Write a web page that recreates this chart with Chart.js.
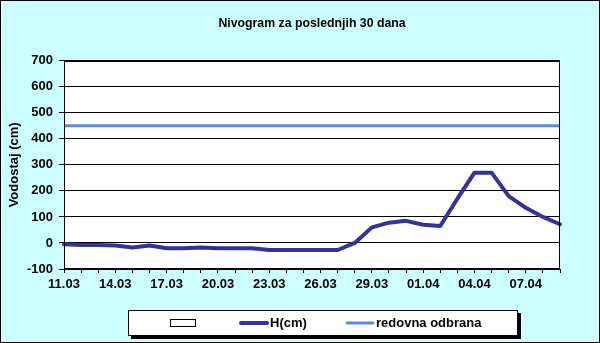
<!DOCTYPE html>
<html>
<head>
<meta charset="utf-8">
<script src="https://cdn.jsdelivr.net/npm/chart.js@4/dist/chart.umd.min.js"></script>
<style>
html,body{margin:0;padding:0;background:#CCFFFF;}
#wrap{width:600px;height:343px;position:relative;}
</style>
</head>
<body>
<div id="wrap"><canvas id="c" width="600" height="343"></canvas></div>
<script>
const TITLE = 'Nivogram za poslednjih 30 dana';
const Y_TITLE = 'Vodostaj (cm)';
const DATES = ['11.03','12.03','13.03','14.03','15.03','16.03','17.03','18.03','19.03','20.03',
  '21.03','22.03','23.03','24.03','25.03','26.03','27.03','28.03','29.03','30.03','31.03',
  '01.04','02.04','03.04','04.04','05.04','06.04','07.04','08.04','09.04'];
const H_LABEL = 'H(cm)';
const H_VALUES = [-5,-8,-8,-10,-17,-10,-20,-20,-17,-20,-20,-20,-27,-27,-27,-27,-27,0,60,78,85,70,65,170,270,270,180,135,100,72];
const RED_LABEL = 'redovna odbrana';
const RED_VALUES = [450,450,450,450,450,450,450,450,450,450,450,450,450,450,450,450,450,450,450,450,450,450,450,450,450,450,450,450,450,450];
const EMPTY_LABEL = '';
const EMPTY_VALUES = [];

const FONT = '"Liberation Sans", Arial, sans-serif';

const bgPlugin = {
  id: 'bg',
  beforeDraw(chart) {
    const ctx = chart.ctx, a = chart.chartArea;
    ctx.save();
    ctx.fillStyle = '#CCFFFF';
    ctx.fillRect(0, 0, chart.width, chart.height);
    ctx.fillStyle = '#FFFFFF';
    ctx.fillRect(a.left, a.top, a.right - a.left, a.bottom - a.top);
    ctx.restore();
  },
  afterDraw(chart) {
    const ctx = chart.ctx, a = chart.chartArea;
    ctx.save();
    ctx.strokeStyle = '#000';
    ctx.lineWidth = 1;
    ctx.strokeRect(Math.round(a.left) + 0.5, Math.round(a.top) + 0.5, Math.round(a.right - a.left) - 1, Math.round(a.bottom - a.top) - 1);
    ctx.strokeRect(0.5, 0.5, chart.width - 1, chart.height - 1);
    // legend
    const lx = 128, ly = 310, lw = 390, lh = 26;
    ctx.fillStyle = '#000';
    ctx.fillRect(lx + 3, ly + 3, lw, lh);
    ctx.fillStyle = '#fff';
    ctx.fillRect(lx, ly, lw, lh);
    ctx.strokeRect(lx + 0.5, ly + 0.5, lw - 1, lh - 1);
    const cy = ly + 13;
    const slots = [170, 240, 346];
    ctx.font = 'bold 13px ' + FONT;
    ctx.textBaseline = 'middle';
    ctx.textAlign = 'left';
    chart.data.datasets.forEach((ds, i) => {
      const x = slots[i];
      if (ds.legendBox) {
        ctx.fillStyle = '#fff';
        ctx.fillRect(x, cy - 3, 25, 6);
        ctx.strokeStyle = '#000';
        ctx.lineWidth = 1;
        ctx.strokeRect(x + 0.5, cy - 3.5, 25, 7);
      } else {
        ctx.strokeStyle = ds.borderColor;
        ctx.lineWidth = ds.borderWidth;
        ctx.lineCap = 'round';
        ctx.beginPath();
        ctx.moveTo(x + 1, cy);
        ctx.lineTo(x + 27, cy);
        ctx.stroke();
        ctx.fillStyle = '#000';
        ctx.fillText(ds.label, x + 30, cy + 0.5);
      }
    });
    ctx.restore();
  }
};

new Chart(document.getElementById('c'), {
  type: 'line',
  data: {
    labels: DATES,
    datasets: [
      { label: EMPTY_LABEL, data: EMPTY_VALUES, legendBox: true, borderColor: '#000', backgroundColor: '#fff', borderWidth: 1, pointRadius: 0 },
      { label: H_LABEL, data: H_VALUES, borderColor: '#333399', borderWidth: 4, pointRadius: 0, tension: 0, borderJoinStyle: 'round', borderCapStyle: 'round' },
      { label: RED_LABEL, data: RED_VALUES, borderColor: '#5B8ED6', borderWidth: 3, pointRadius: 0, tension: 0 }
    ]
  },
  options: {
    responsive: false,
    animation: false,
    devicePixelRatio: 1,
    layout: { padding: { left: 0, right: 40, top: 0, bottom: 0 } },
    plugins: {
      legend: { display: false },
      tooltip: { enabled: false },
      title: {
        display: true,
        text: TITLE,
        fullSize: false,
        color: '#000',
        font: { family: FONT, size: 12.3, weight: 'bold' },
        padding: { top: 16, bottom: 30 }
      }
    },
    scales: {
      x: {
        offset: false,
        grid: { drawOnChartArea: false, color: '#000', tickLength: 4, offset: false },
        border: { color: '#000', width: 1 },
        ticks: {
          autoSkip: false, maxRotation: 0, minRotation: 0, padding: 4,
          color: '#000', font: { family: FONT, size: 13, weight: 'bold' },
          callback: (v, i) => (i % 3 === 0 ? DATES[i] : '')
        },
        afterFit: s => { s.height = 74; }
      },
      y: {
        min: -100, max: 700,
        grid: { color: '#000', lineWidth: 1, tickLength: 5 },
        border: { color: '#000', width: 1 },
        ticks: { stepSize: 100, padding: 6, color: '#000', font: { family: FONT, size: 13, weight: 'bold' } },
        title: { display: true, text: Y_TITLE, color: '#000', font: { family: FONT, size: 13, weight: 'bold' }, padding: { top: 7, bottom: 0 } },
        afterFit: s => { s.width = 64; }
      }
    }
  },
  plugins: [bgPlugin]
});
</script>
</body>
</html>
